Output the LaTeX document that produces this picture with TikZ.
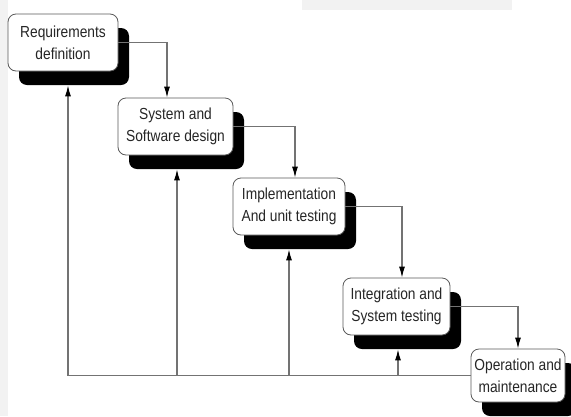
\documentclass[tikz,border=0pt]{standalone}
\usepackage{fontspec}
\newfontfamily\stagefont[FakeStretch=0.86]{Liberation Sans}
\usepackage{tikz}
\usetikzlibrary{arrows.meta,shadows}

\tikzset{
  stage/.style={draw=black!65, line width=0.8pt, rounded corners=8pt, fill=white,
    align=center, inner sep=0pt, minimum height=57pt, text=black!85,
    font=\stagefont\fontsize{16pt}{22pt}\selectfont,
    general shadow={fill=black, shadow xshift=11pt, shadow yshift=-14pt}},
  flow/.style={draw=black!55, line width=1.1pt, -{Latex[length=11pt,width=6pt,color=black]}},
  back/.style={flow}
}

\begin{document}
\begin{tikzpicture}[x=1pt,y=-1pt]

    \useasboundingbox (0,0) rectangle (571,416);
    % page background bits
    \fill[black!5] (0,0) rectangle (8,416);
    \fill[black!5] (302,0) rectangle (512,10);

    % stages
    \node[stage, minimum width=110pt] (req)   at (63,42.5)    {Requirements\\definition};
    \node[stage, minimum width=115pt] (sys)   at (175.5,126.5) {System and\\Software design};
    \node[stage, minimum width=112pt] (impl)  at (289,206.5)  {Implementation\\And unit testing};
    \node[stage, minimum width=107pt] (integ) at (396.5,306.5) {Integration and\\System testing};
    \node[stage, minimum width=94pt, minimum height=53pt] (oper) at (518,375.5) {Operation and\\maintenance};

    % going down
    \draw[flow] (req.east) -| ([xshift=-8.5pt]sys.north); % req -> sys
    \draw[flow] (sys.east) -| ([xshift=6pt]impl.north); % sys -> impl
    \draw[flow] (impl.east) -| ([xshift=5.5pt]integ.north); % impl -> integ
    \draw[flow] (integ.east) -| (oper.north); % integ -> oper

    % going back up
    \draw[back] (oper.west) -| ([xshift=5pt,yshift=-14pt]req.south); % oper -> req
    \draw[back] ([xshift=1.5pt]sys.south |- oper.west) -- ([xshift=1.5pt,yshift=-14pt]sys.south); % -> sys
    \draw[back] (impl.south |- oper.west) -- ([yshift=-14pt]impl.south); % -> impl
    \draw[back] ([xshift=1.5pt]integ.south |- oper.west) -- ([xshift=1.5pt,yshift=-14pt]integ.south); % -> integ

\end{tikzpicture}
\end{document}
